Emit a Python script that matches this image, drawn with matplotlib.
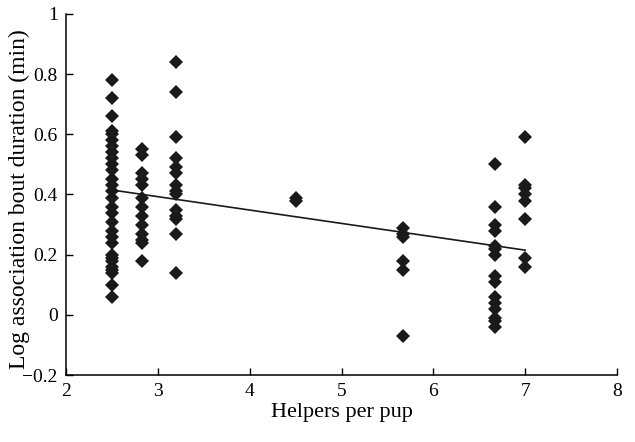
import matplotlib
matplotlib.use("Agg")
import matplotlib.pyplot as plt
import numpy as np

# helpers per pup groups and log bout durations
x_groups = [2.5, 2.83, 3.2, 4.5, 5.67, 6.67, 7.0]
y_groups = [
    [0.78, 0.72, 0.66, 0.61, 0.60, 0.58, 0.56, 0.54, 0.52, 0.50, 0.48, 0.45,
     0.43, 0.41, 0.39, 0.36, 0.34, 0.31, 0.28, 0.26, 0.24, 0.20, 0.19, 0.18,
     0.16, 0.15, 0.14, 0.10, 0.06],
    [0.55, 0.53, 0.47, 0.45, 0.43, 0.39, 0.36, 0.33, 0.30, 0.27, 0.25, 0.24, 0.18],
    [0.84, 0.74, 0.59, 0.52, 0.49, 0.47, 0.43, 0.41, 0.40, 0.35, 0.33, 0.32, 0.27, 0.14],
    [0.39, 0.38],
    [0.29, 0.27, 0.26, 0.18, 0.15, -0.07],
    [0.50, 0.36, 0.30, 0.28, 0.23, 0.22, 0.20, 0.13, 0.11, 0.06, 0.04, 0.02,
     -0.01, -0.02, -0.04],
    [0.59, 0.43, 0.42, 0.40, 0.38, 0.32, 0.19, 0.16],
]
fit_x = [2.5, 7.0]
fit_y = [0.415, 0.215]

plt.rcParams['font.family'] = ['Liberation Serif', 'DejaVu Serif']

fig = plt.figure(figsize=(6.35, 4.42), dpi=100)
ax = fig.add_axes([66 / 635, 67 / 442, 551 / 635, 361 / 442])

xs = np.concatenate([[x] * len(ys) for x, ys in zip(x_groups, y_groups)])
ys = np.concatenate(y_groups)
ax.plot(xs, ys, 'D', color='#1a1a1a', markersize=7.5, markeredgewidth=0)
ax.plot(fit_x, fit_y, color='#1a1a1a', linewidth=1.2)

ax.set_xlim(2, 8)
ax.set_ylim(-0.2, 1)
ax.set_xticks([2, 3, 4, 5, 6, 7, 8])
ax.set_yticks([-0.2, 0, 0.2, 0.4, 0.6, 0.8, 1])
ax.set_yticklabels(['\u22120.2', '0', '0.2', '0.4', '0.6', '0.8', '1'])
ax.tick_params(direction='in', length=5, width=1, labelsize=14, pad=6)
for s in ['top', 'right']:
    ax.spines[s].set_visible(False)
for s in ['left', 'bottom']:
    ax.spines[s].set_linewidth(1.1)

ax.set_xlabel('Helpers per pup', fontsize=16, labelpad=2)
ax.set_ylabel('Log association bout duration (min)', fontsize=17)
ax.yaxis.set_label_coords(-0.066, 0.488)

fig.savefig('out.png', dpi=100)
